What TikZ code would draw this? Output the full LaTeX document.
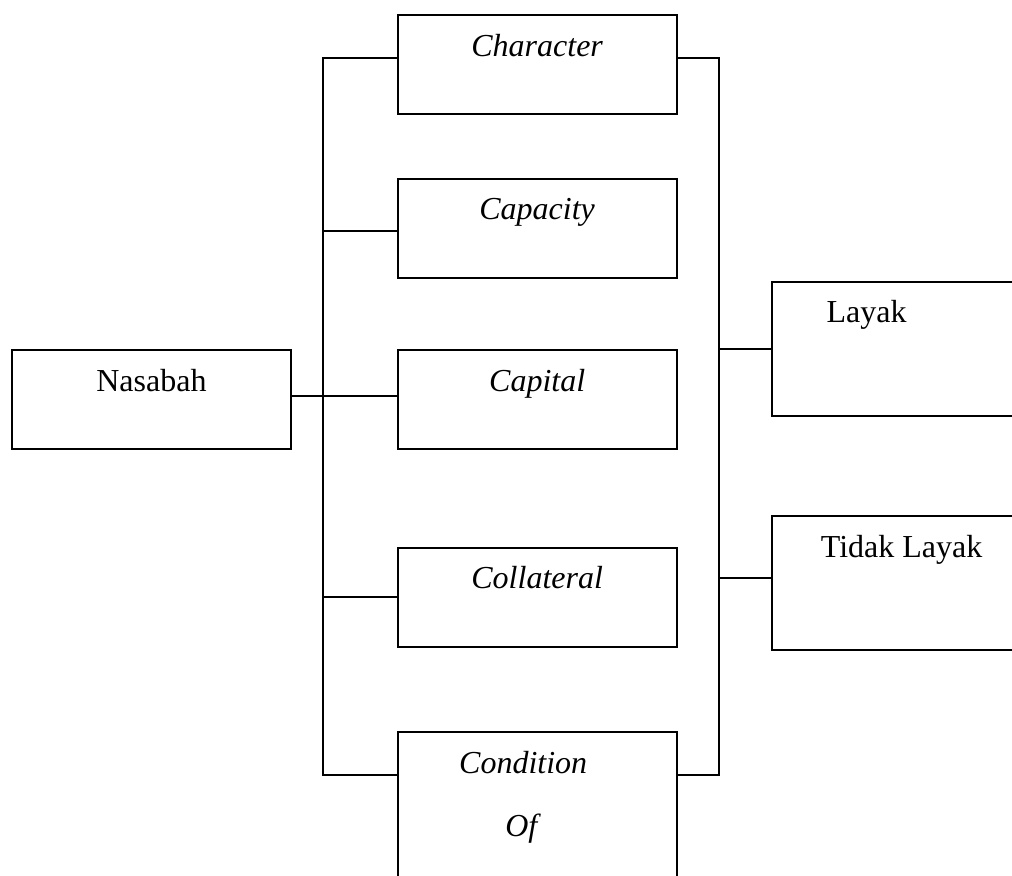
\documentclass[tikz,border=0pt,12pt]{standalone}
\usepackage{fontspec}
\setmainfont{Liberation Serif}
\usepackage{tikz}

\begin{document}
\begin{tikzpicture}[x=0.375pt,y=-0.375pt,line width=0.75pt,
  box/.style={draw, anchor=north west, inner ysep=0pt, minimum width=104.6pt, text height=15.4pt, text depth=21.75pt},
  tallbox/.style={box, minimum width=97pt, text depth=34.9pt}]
\useasboundingbox (0,0) rectangle (1012,876);
\clip (0,0) rectangle (1012,876);
\node[box] (nasabah) at (11,349.3) {Nasabah};
\node[box] (character) at (396.7,14.3) {\textit{Character}};
\node[box] (capacity) at (396.7,177.7) {\textit{Capacity}};
\node[box] (capital) at (396.7,349.3) {\textit{Capital}};
\node[box] (collateral) at (396.7,546.7) {\textit{Collateral}};
\node[box, text depth=75pt] (condition) at (396.7,731.3) {\begin{tabular}[t]{@{}c@{\hspace{10.5pt}}}\textit{Condition}\\[9.1pt]\textit{Of}\end{tabular}};
\node[tallbox] (layak) at (771.3,280.7) {Layak\hspace*{26.25pt}};
\node[tallbox] (tidak) at (771.3,515) {Tidak Layak};
\coordinate (lbus) at (323.3,0);
\coordinate (rbus) at (719,0);
\coordinate (cl) at ([yshift=-16.4pt]condition.north west);
\coordinate (cr) at ([yshift=-16.4pt]condition.north east);
\draw ([yshift=2.55pt]character.west) -| (lbus |- cl) -- (cl);
\draw ([yshift=2.55pt]character.east) -| (rbus |- cr) -- (cr);
\foreach \n/\s in {capacity/-1pt,collateral/0pt}
  \draw ([yshift=\s]\n.west) coordinate (p) -- (p -| lbus);
\draw ([yshift=1.4pt]nasabah.east) -- ([yshift=1.4pt]capital.west);
\draw (layak.west) -- (layak.west -| rbus);
\draw ([yshift=2pt]tidak.west) coordinate (p) -- (p -| rbus);
\end{tikzpicture}
\end{document}
